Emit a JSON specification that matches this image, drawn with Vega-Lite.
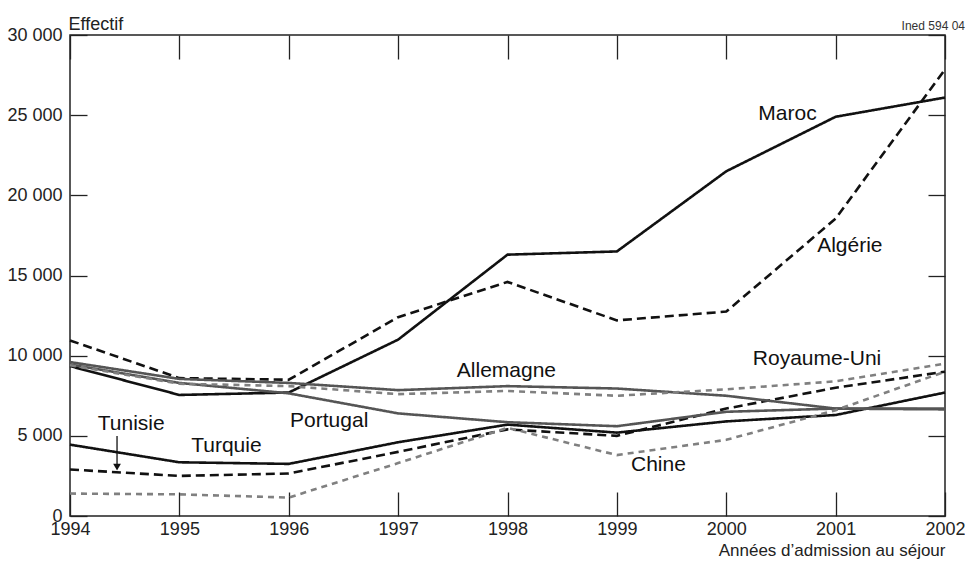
{
  "$schema": "https://vega.github.io/schema/vega-lite/v6.json",
  "width": 875,
  "height": 481,
  "autosize": {"type": "none"},
  "padding": {"left": 70, "top": 35, "right": 20, "bottom": 51},
  "background": "white",
  "title": {"text": "Ined 594 04", "anchor": "end", "fontSize": 12, "fontWeight": "normal", "font": "Liberation Sans", "color": "#333", "offset": 6, "dy": 24},
  "config": {"view": {"stroke": "#222", "strokeWidth": 1.5}, "font": "Liberation Sans"},
  "datasets": {
    "series": [
      {"country": "Maroc", "year": 1994, "value": 9350},
      {"country": "Maroc", "year": 1995, "value": 7550},
      {"country": "Maroc", "year": 1996, "value": 7700},
      {"country": "Maroc", "year": 1997, "value": 11000},
      {"country": "Maroc", "year": 1998, "value": 16300},
      {"country": "Maroc", "year": 1999, "value": 16500},
      {"country": "Maroc", "year": 2000, "value": 21500},
      {"country": "Maroc", "year": 2001, "value": 24900},
      {"country": "Maroc", "year": 2002, "value": 26100},
      {"country": "Algérie", "year": 1994, "value": 10950},
      {"country": "Algérie", "year": 1995, "value": 8600},
      {"country": "Algérie", "year": 1996, "value": 8500},
      {"country": "Algérie", "year": 1997, "value": 12400},
      {"country": "Algérie", "year": 1998, "value": 14600},
      {"country": "Algérie", "year": 1999, "value": 12200},
      {"country": "Algérie", "year": 2000, "value": 12750},
      {"country": "Algérie", "year": 2001, "value": 18550},
      {"country": "Algérie", "year": 2002, "value": 27850},
      {"country": "Tunisie", "year": 1994, "value": 2900},
      {"country": "Tunisie", "year": 1995, "value": 2500},
      {"country": "Tunisie", "year": 1996, "value": 2650},
      {"country": "Tunisie", "year": 1997, "value": 4000},
      {"country": "Tunisie", "year": 1998, "value": 5400},
      {"country": "Tunisie", "year": 1999, "value": 5000},
      {"country": "Tunisie", "year": 2000, "value": 6700},
      {"country": "Tunisie", "year": 2001, "value": 8000},
      {"country": "Tunisie", "year": 2002, "value": 9000},
      {"country": "Turquie", "year": 1994, "value": 4450},
      {"country": "Turquie", "year": 1995, "value": 3350},
      {"country": "Turquie", "year": 1996, "value": 3250},
      {"country": "Turquie", "year": 1997, "value": 4600},
      {"country": "Turquie", "year": 1998, "value": 5700},
      {"country": "Turquie", "year": 1999, "value": 5200},
      {"country": "Turquie", "year": 2000, "value": 5900},
      {"country": "Turquie", "year": 2001, "value": 6300},
      {"country": "Turquie", "year": 2002, "value": 7700},
      {"country": "Allemagne", "year": 1994, "value": 9600},
      {"country": "Allemagne", "year": 1995, "value": 8550},
      {"country": "Allemagne", "year": 1996, "value": 8300},
      {"country": "Allemagne", "year": 1997, "value": 7850},
      {"country": "Allemagne", "year": 1998, "value": 8100},
      {"country": "Allemagne", "year": 1999, "value": 7950},
      {"country": "Allemagne", "year": 2000, "value": 7500},
      {"country": "Allemagne", "year": 2001, "value": 6700},
      {"country": "Allemagne", "year": 2002, "value": 6700},
      {"country": "Portugal", "year": 1994, "value": 9450},
      {"country": "Portugal", "year": 1995, "value": 8300},
      {"country": "Portugal", "year": 1996, "value": 7650},
      {"country": "Portugal", "year": 1997, "value": 6400},
      {"country": "Portugal", "year": 1998, "value": 5850},
      {"country": "Portugal", "year": 1999, "value": 5600},
      {"country": "Portugal", "year": 2000, "value": 6500},
      {"country": "Portugal", "year": 2001, "value": 6700},
      {"country": "Portugal", "year": 2002, "value": 6650},
      {"country": "Royaume-Uni", "year": 1994, "value": 9400},
      {"country": "Royaume-Uni", "year": 1995, "value": 8250},
      {"country": "Royaume-Uni", "year": 1996, "value": 8100},
      {"country": "Royaume-Uni", "year": 1997, "value": 7600},
      {"country": "Royaume-Uni", "year": 1998, "value": 7800},
      {"country": "Royaume-Uni", "year": 1999, "value": 7500},
      {"country": "Royaume-Uni", "year": 2000, "value": 7900},
      {"country": "Royaume-Uni", "year": 2001, "value": 8400},
      {"country": "Royaume-Uni", "year": 2002, "value": 9500},
      {"country": "Chine", "year": 1994, "value": 1400},
      {"country": "Chine", "year": 1995, "value": 1350},
      {"country": "Chine", "year": 1996, "value": 1150},
      {"country": "Chine", "year": 1997, "value": 3300},
      {"country": "Chine", "year": 1998, "value": 5500},
      {"country": "Chine", "year": 1999, "value": 3800},
      {"country": "Chine", "year": 2000, "value": 4750},
      {"country": "Chine", "year": 2001, "value": 6600},
      {"country": "Chine", "year": 2002, "value": 9000}
    ],
    "labels": [
      {"label": "Maroc", "year": 2000.56, "value": 25100},
      {"label": "Algérie", "year": 2001.13, "value": 16850},
      {"label": "Allemagne", "year": 1997.99, "value": 9040},
      {"label": "Royaume-Uni", "year": 2000.83, "value": 9790},
      {"label": "Portugal", "year": 1996.37, "value": 5930},
      {"label": "Turquie", "year": 1995.43, "value": 4370},
      {"label": "Tunisie", "year": 1994.56, "value": 5740},
      {"label": "Chine", "year": 1999.38, "value": 3180}
    ],
    "arrow": [
      {"year": 1994.43, "top": 4990, "bottom": 3000, "tip": 3050}
    ]
  },
  "resolve": {"axis": {"x": "independent", "y": "independent"}},
  "layer": [
    {
      "data": {"name": "series"},
      "mark": {"type": "line", "strokeCap": "butt", "strokeJoin": "miter"},
      "encoding": {
        "x": {
          "field": "year", "type": "quantitative",
          "scale": {"domain": [1994, 2002], "nice": false, "zero": false},
          "axis": {
            "orient": "bottom", "values": [1994, 1995, 1996, 1997, 1998, 1999, 2000, 2001, 2002],
            "format": "d", "grid": false, "domain": false, "labelFlush": false, "labelOverlap": false,
            "tickSize": -24, "tickWidth": 1.3, "tickColor": "#222",
            "labelFontSize": 18, "labelColor": "#222", "labelPadding": 28, "labelFont": "Liberation Sans",
            "title": "Années d’admission au séjour", "titleAnchor": "end", "titleAlign": "right",
            "titleFontSize": 17, "titleFontWeight": "normal", "titleColor": "#222", "titleFont": "Liberation Sans", "titlePadding": 4
          }
        },
        "y": {
          "field": "value", "type": "quantitative",
          "scale": {"domain": [0, 30000], "nice": false},
          "axis": {
            "orient": "left", "values": [0, 5000, 10000, 15000, 20000, 25000, 30000],
            "labelExpr": "replace(format(datum.value, ','), ',', ' ')",
            "grid": false, "domain": false, "labelFlush": false, "labelOverlap": false,
            "tickSize": -17, "tickWidth": 1.3, "tickColor": "#222",
            "labelFontSize": 18, "labelColor": "#222", "labelPadding": 25, "labelFont": "Liberation Sans",
            "title": "Effectif", "titleAngle": 0, "titleAlign": "left", "titleBaseline": "alphabetic",
            "titleX": -2, "titleY": -6, "titleFontSize": 18, "titleFontWeight": "normal", "titleColor": "#222", "titleFont": "Liberation Sans"
          }
        },
        "color": {
          "field": "country", "type": "nominal", "legend": null,
          "scale": {
            "domain": ["Maroc", "Algérie", "Tunisie", "Turquie", "Allemagne", "Portugal", "Royaume-Uni", "Chine"],
            "range": ["#111111", "#111111", "#111111", "#111111", "#555555", "#555555", "#808080", "#808080"]
          }
        },
        "strokeDash": {
          "field": "country", "type": "nominal", "legend": null,
          "scale": {
            "domain": ["Maroc", "Algérie", "Tunisie", "Turquie", "Allemagne", "Portugal", "Royaume-Uni", "Chine"],
            "range": [[1, 0], [9, 5], [9, 5], [1, 0], [1, 0], [1, 0], [6, 5], [6, 5]]
          }
        },
        "strokeWidth": {
          "field": "country", "type": "nominal", "legend": null,
          "scale": {
            "domain": ["Maroc", "Algérie", "Tunisie", "Turquie", "Allemagne", "Portugal", "Royaume-Uni", "Chine"],
            "range": [2.6, 2.6, 2.6, 2.6, 1.0, 1.0, 1.2, 1.2]
          }
        }
      }
    },
    {
      "data": {"name": "series"},
      "mark": {"type": "point", "opacity": 0},
      "encoding": {
        "x": {
          "field": "year", "type": "quantitative",
          "axis": {
            "orient": "top", "values": [1994, 1995, 1996, 1997, 1998, 1999, 2000, 2001, 2002],
            "labels": false, "domain": false, "grid": false, "title": null,
            "tickSize": -24, "tickWidth": 1.3, "tickColor": "#222"
          }
        },
        "y": {
          "field": "value", "type": "quantitative",
          "axis": {
            "orient": "right", "values": [0, 5000, 10000, 15000, 20000, 25000, 30000],
            "labels": false, "domain": false, "grid": false, "title": null,
            "tickSize": -17, "tickWidth": 1.3, "tickColor": "#222"
          }
        }
      }
    },
    {
      "data": {"name": "labels"},
      "mark": {"type": "text", "fontSize": 21, "font": "Liberation Sans", "align": "center", "baseline": "middle", "color": "#111"},
      "encoding": {
        "x": {"field": "year", "type": "quantitative", "axis": null},
        "y": {"field": "value", "type": "quantitative", "axis": null},
        "text": {"field": "label", "type": "nominal"}
      }
    },
    {
      "data": {"name": "arrow"},
      "mark": {"type": "rule", "color": "#111", "strokeWidth": 1.3},
      "encoding": {
        "x": {"field": "year", "type": "quantitative", "axis": null},
        "y": {"field": "top", "type": "quantitative", "axis": null},
        "y2": {"field": "bottom"}
      }
    },
    {
      "data": {"name": "arrow"},
      "mark": {"type": "point", "shape": "triangle-down", "filled": true, "color": "#111", "size": 60, "opacity": 1},
      "encoding": {
        "x": {"field": "year", "type": "quantitative", "axis": null},
        "y": {"field": "tip", "type": "quantitative", "axis": null}
      }
    }
  ]
}
